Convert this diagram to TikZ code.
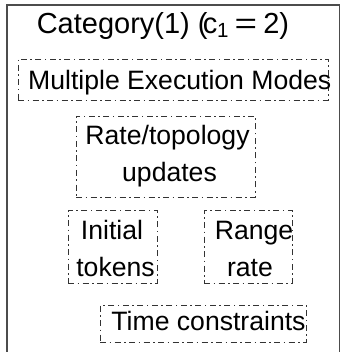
\documentclass[tikz,border=0pt]{standalone}
\usepackage{fontspec}
\usepackage{graphicx}
\setmainfont{Liberation Sans}
\begin{document}
\begin{tikzpicture}[x=1pt, y=-1pt,
  frame/.style={draw=black!70, line width=1.5pt},
  dbox/.style={draw=black!80, line width=0.9pt, inner sep=0pt,
    dash pattern=on 6pt off 3.5pt on 1.5pt off 3.5pt},
  lbl/.style={inner sep=0pt, font=\fontsize{26.6}{37}\selectfont, text=black},
  ttl/.style={inner sep=0pt, font=\fontsize{29}{37}\selectfont, text=black}]
  \useasboundingbox (0,0) rectangle (340,352);
  \clip (0,0) rectangle (340,352);
  % outer frame (runs past the lower edge)
  \draw[frame] (7,5) rectangle (339.5,370);
  % title
  \node[ttl, anchor=base west] (title) at (36.6,34)
    {Category(1) (\kern-4.7pt c\kern-0.4pt\raisebox{-4pt}{\fontsize{20.5}{21}\selectfont 1}\hspace{6.3pt}\scalebox{1.33}[1]{=}\hspace{6pt}2)};
  % dash-dot boxes
  \node[dbox, minimum width=310pt, minimum height=41pt] (mem) at (173,79.5) {};
  \node[dbox, minimum width=179pt, minimum height=81pt] (rtu) at (165.5,156.5) {};
  \node[dbox, minimum width=89pt, minimum height=73pt] (itk) at (112.5,246.5) {};
  \node[dbox, minimum width=88pt, minimum height=73pt] (rr) at (248,246.5) {};
  \node[dbox, minimum width=206pt, minimum height=37pt] (tc) at (203,323.5) {};
  % box texts
  \node[lbl, anchor=base west] (memt) at (28,90) {Multiple Execution Modes};
  \node[lbl, anchor=base] (rtua) at (167.5,145) {Rate/topology};
  \node[lbl, anchor=base] (rtub) at (169.5,181.7) {updates};
  \node[lbl, anchor=base] (itka) at (112,239) {Initial};
  \node[lbl, anchor=base] (itkb) at (115.5,276) {tokens};
  \node[lbl, anchor=base] (rra) at (254,239) {Range};
  \node[lbl, anchor=base] (rrb) at (250,276) {rate};
  \node[lbl, anchor=base] (tct) at (208.5,330) {Time constraints};
\end{tikzpicture}
\end{document}
